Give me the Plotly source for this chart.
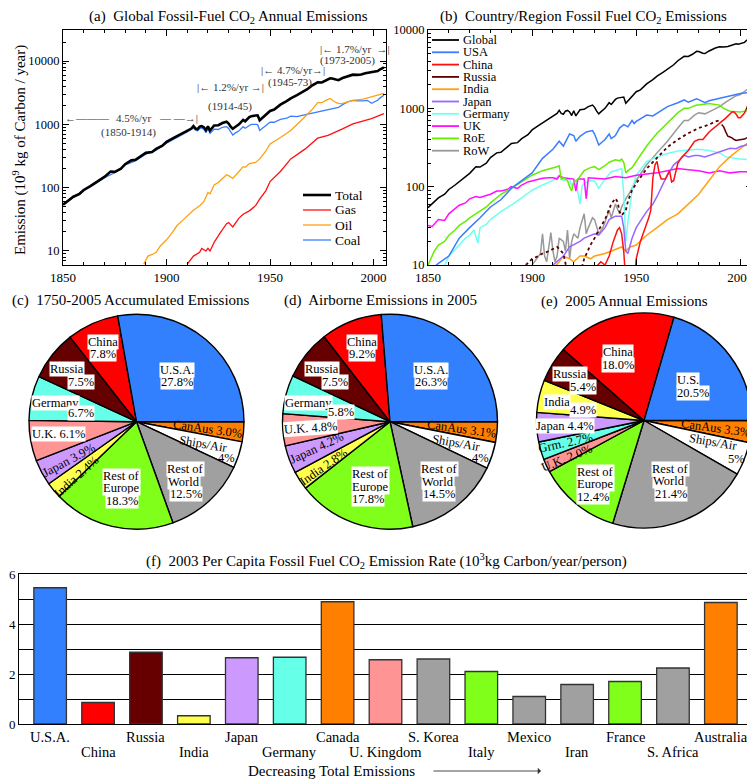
import math
import plotly.graph_objects as go

SERIF = "Liberation Serif, Times New Roman, serif"
# The page adds an 8 px body margin, so the figure is offset by it inside the window
OFF = 8
W, H = 755 - OFF, 779 - OFF


def fx(x):
    return (x - OFF) / W


def fy(y):
    return 1 - (y - OFF) / H


# ---------------- Panel (a): global emissions by fuel (10^9 kg C / yr) ----------------
total_years = [1850, 1852, 1855, 1858, 1860, 1863, 1865, 1868, 1870, 1873, 1875, 1878, 1880, 1883, 1885,
               1888, 1890, 1893, 1895, 1898, 1900, 1903, 1905, 1908, 1910, 1912, 1913, 1914, 1915, 1916,
               1917, 1918, 1919, 1920, 1921, 1922, 1923, 1925, 1927, 1929, 1930, 1931, 1932, 1933, 1935,
               1937, 1938, 1940, 1941, 1943, 1944, 1945, 1946, 1948, 1950, 1952, 1955, 1958, 1960, 1963,
               1965, 1968, 1970, 1972, 1973, 1975, 1977, 1979, 1980, 1982, 1983, 1985, 1988, 1990, 1992,
               1994, 1996, 1998, 1999, 2000, 2002, 2003, 2004, 2005]
total_vals = [54, 60, 72, 80, 92, 105, 115, 135, 148, 180, 178, 200, 235, 270, 275,
              320, 355, 365, 410, 460, 530, 600, 650, 740, 800, 860, 940, 860, 840, 920,
              940, 900, 810, 930, 800, 870, 960, 970, 1050, 1100, 1030, 920, 850, 900, 1000,
              1180, 1120, 1300, 1350, 1380, 1390, 1160, 1240, 1450, 1630, 1720, 2050, 2330, 2580, 2900,
              3130, 3600, 4050, 4350, 4620, 4600, 4900, 5350, 5300, 5050, 5000, 5400, 5900, 6100, 6050,
              6150, 6450, 6650, 6600, 6750, 6950, 7350, 7650, 7950]

coal_years = [1850, 1855, 1860, 1865, 1870, 1875, 1880, 1885, 1890, 1895, 1900, 1905, 1910, 1913, 1914,
              1915, 1916, 1917, 1918, 1919, 1920, 1921, 1922, 1923, 1925, 1927, 1929, 1930, 1931, 1932,
              1933, 1935, 1937, 1938, 1940, 1941, 1943, 1944, 1945, 1946, 1948, 1950, 1952, 1955, 1958,
              1960, 1963, 1965, 1968, 1970, 1973, 1975, 1978, 1980, 1983, 1985, 1988, 1990, 1992, 1995,
              1997, 1999, 2000, 2002, 2003, 2005]
coal_vals = [54, 71, 90, 112, 144, 172, 228, 265, 340, 390, 505, 615, 760, 880, 810,
             790, 860, 880, 840, 740, 850, 720, 780, 840, 830, 900, 920, 860, 760, 680,
             720, 790, 920, 870, 960, 1000, 1000, 990, 800, 860, 960, 1080, 1080, 1200, 1250,
             1350, 1330, 1380, 1450, 1530, 1580, 1650, 1750, 1780, 1850, 2050, 2300, 2400, 2350, 2350,
             2400, 2150, 2250, 2400, 2600, 2880]

oil_years = [1889, 1891, 1893, 1895, 1897, 1900, 1903, 1905, 1908, 1910, 1913, 1916, 1918, 1920, 1921,
             1923, 1925, 1927, 1929, 1930, 1932, 1935, 1937, 1938, 1940, 1943, 1945, 1948, 1950, 1955,
             1960, 1965, 1970, 1973, 1975, 1977, 1979, 1981, 1983, 1985, 1990, 1995, 2000, 2005]
oil_vals = [6.2, 8.3, 8.8, 9.5, 12, 15, 20, 25, 31, 36, 44, 52, 60, 84, 80,
            110, 121, 140, 160, 155, 140, 180, 215, 210, 240, 250, 285, 380, 490, 620,
            800, 1150, 1670, 2210, 2200, 2400, 2570, 2300, 2130, 2150, 2400, 2500, 2820, 3100]

gas_years = [1910, 1913, 1916, 1917, 1919, 1920, 1921, 1923, 1926, 1929, 1930, 1932, 1935, 1937, 1940,
             1943, 1945, 1948, 1950, 1955, 1960, 1967, 1973, 1978, 1985, 1990, 1993, 1999, 2005]
gas_vals = [6.2, 8.3, 9.5, 11, 10, 11, 10, 13.7, 19.5, 27, 28, 24, 33, 38, 43,
            52, 66, 90, 125, 180, 285, 410, 605, 670, 850, 1020, 1090, 1230, 1480]

fuel_names = ["Total", "Gas", "Oil", "Coal"]

# ---------------- Panel (b): country / region emissions ----------------
usa_years = [1850, 1855, 1860, 1865, 1870, 1875, 1880, 1885, 1890, 1895, 1900, 1905, 1910, 1913, 1915,
             1918, 1920, 1921, 1923, 1926, 1929, 1930, 1932, 1935, 1937, 1938, 1940, 1942, 1944, 1945,
             1946, 1948, 1949, 1950, 1955, 1958, 1960, 1965, 1970, 1973, 1975, 1979, 1980, 1983, 1985,
             1990, 1995, 2000, 2005]
usa_vals = [8, 10.5, 13, 22, 30, 40, 55, 68, 95, 120, 150, 230, 300, 380, 330,
            470, 450, 380, 440, 500, 520, 470, 340, 400, 470, 410, 450, 560, 620, 600,
            580, 700, 640, 680, 820, 800, 860, 1050, 1180, 1280, 1200, 1320, 1290, 1180, 1250,
            1350, 1450, 1550, 1600]

china_years = [1930, 1933, 1935, 1937, 1939, 1941, 1942, 1943, 1944, 1945, 1949, 1950, 1952, 1954, 1956,
               1957, 1958, 1959, 1960, 1961, 1962, 1964, 1966, 1967, 1968, 1970, 1972, 1975, 1978, 1980,
               1982, 1985, 1988, 1990, 1993, 1996, 1997, 1998, 1999, 2000, 2002, 2003, 2004, 2005]
china_vals = [9, 11, 10, 13, 20, 28, 30, 25, 15, 6, 6, 12, 20, 28, 40,
              50, 130, 190, 210, 150, 125, 125, 160, 115, 120, 200, 240, 290, 380, 400,
              400, 500, 580, 640, 750, 900, 900, 840, 760, 760, 870, 1000, 1200, 1400]

ussr_years = [1897, 1900, 1903, 1905, 1908, 1910, 1912, 1913, 1915, 1917, 1918, 1920, 1922, 1925, 1928,
              1930, 1932, 1935, 1938, 1940, 1941, 1942, 1943, 1945, 1946, 1948, 1950, 1955, 1960, 1965,
              1970, 1975, 1980, 1985, 1988, 1990, 1991]
ussr_vals = [10, 12, 13, 14, 15, 16, 17, 16, 14, 8, 5, 4, 6, 12, 18,
             22, 28, 38, 60, 71, 64, 48, 43, 50, 65, 90, 110, 170, 230, 320,
             400, 480, 560, 620, 680, 700, 680]

russia_years = [1991, 1992, 1993, 1994, 1995, 1996, 1997, 1998, 1999, 2000, 2001, 2002, 2003, 2004, 2005]
russia_vals = [620, 580, 500, 440, 430, 420, 400, 390, 395, 400, 400, 405, 420, 425, 430]

india_years = [1905, 1908, 1910, 1913, 1915, 1918, 1920, 1923, 1925, 1928, 1930, 1935, 1940, 1943, 1945,
               1947, 1950, 1955, 1960, 1965, 1970, 1975, 1980, 1985, 1990, 1995, 2000, 2005]
india_vals = [5, 7, 9, 11, 13, 12, 11, 13, 13, 12, 13, 14, 16, 17, 15,
              17, 18, 24, 30, 38, 45, 60, 80, 120, 180, 240, 310, 390]

japan_years = [1908, 1910, 1913, 1915, 1918, 1920, 1923, 1925, 1928, 1930, 1932, 1935, 1937, 1940, 1943,
               1944, 1945, 1946, 1948, 1950, 1953, 1955, 1958, 1960, 1963, 1965, 1968, 1970, 1973, 1975,
               1978, 1980, 1983, 1985, 1988, 1990, 1993, 1995, 1998, 2000, 2003, 2005]
japan_vals = [9, 10, 12, 13, 17, 18, 20, 22, 24, 25, 24, 30, 38, 42, 42,
              30, 15, 14, 22, 30, 40, 48, 60, 75, 110, 140, 190, 210, 252, 240,
              250, 250, 240, 250, 265, 275, 295, 310, 305, 325, 340, 345]

germany_years = [1855, 1858, 1860, 1863, 1865, 1868, 1870, 1872, 1874, 1875, 1878, 1880, 1885, 1890, 1895,
                 1900, 1905, 1910, 1913, 1914, 1915, 1918, 1919, 1920, 1921, 1923, 1924, 1925, 1928, 1930,
                 1932, 1935, 1938, 1940, 1943, 1944, 1945, 1946, 1947, 1948, 1950, 1953, 1955, 1960, 1965,
                 1970, 1975, 1980, 1985, 1990, 1993, 1995, 2000, 2005]
germany_vals = [8, 10, 13, 16, 18, 22, 24, 28, 19, 30, 33, 38, 48, 58, 72,
                90, 105, 120, 140, 130, 120, 125, 100, 115, 118, 60, 100, 110, 120, 118,
                95, 125, 155, 160, 170, 80, 20, 35, 60, 90, 140, 180, 210, 240, 265,
                285, 290, 300, 290, 270, 240, 235, 225, 220]

uk_years = [1850, 1852, 1855, 1858, 1860, 1863, 1865, 1868, 1870, 1873, 1875, 1878, 1880, 1883, 1885,
            1888, 1890, 1893, 1895, 1898, 1900, 1903, 1905, 1908, 1910, 1912, 1913, 1915, 1918, 1920,
            1921, 1922, 1925, 1926, 1927, 1930, 1935, 1940, 1945, 1950, 1955, 1960, 1965, 1970, 1975,
            1980, 1985, 1990, 1995, 2000, 2005]
uk_vals = [32, 31, 38, 37, 45, 52, 58, 62, 70, 75, 73, 77, 80, 88, 88,
           92, 100, 95, 105, 115, 118, 122, 128, 130, 130, 125, 137, 130, 128, 125,
           88, 125, 125, 70, 130, 128, 125, 135, 130, 140, 145, 150, 160, 170, 165,
           160, 150, 160, 150, 155, 155]

roe_years = [1850, 1853, 1855, 1858, 1860, 1863, 1865, 1868, 1870, 1873, 1875, 1878, 1880, 1885, 1890,
             1895, 1900, 1905, 1910, 1912, 1913, 1914, 1915, 1917, 1918, 1919, 1920, 1922, 1925, 1928,
             1930, 1932, 1935, 1937, 1940, 1942, 1943, 1944, 1945, 1946, 1948, 1950, 1955, 1960, 1965,
             1970, 1973, 1975, 1979, 1980, 1985, 1989, 1990, 1992, 1995, 2000, 2005]
roe_vals = [10, 15, 18, 20, 24, 28, 32, 36, 40, 45, 48, 55, 62, 80, 95,
            115, 140, 160, 172, 180, 185, 125, 130, 120, 100, 88, 115, 125, 160, 175,
            180, 165, 185, 205, 220, 215, 225, 205, 150, 160, 175, 210, 330, 480, 660,
            880, 1000, 1000, 1100, 1100, 1150, 1120, 1100, 1000, 920, 900, 950]

row_years = [1900, 1902, 1904, 1905, 1906, 1907, 1909, 1910, 1911, 1912, 1913, 1915, 1916, 1917, 1918,
             1919, 1920, 1922, 1923, 1925, 1926, 1927, 1929, 1930, 1932, 1934, 1935, 1937, 1938, 1940,
             1942, 1943, 1945, 1947, 1950, 1955, 1960, 1965, 1970, 1973, 1975, 1978, 1980, 1983, 1985,
             1988, 1990, 1993, 1995, 1998, 2000, 2003, 2005]
row_vals = [10, 12, 14, 25, 13, 11, 26, 15, 11, 13, 22, 20, 15, 28, 12,
            20, 25, 22, 30, 45, 25, 30, 40, 38, 25, 30, 35, 50, 40, 60,
            45, 55, 70, 85, 120, 190, 270, 380, 560, 700, 700, 820, 880, 850, 900,
            1000, 1050, 1200, 1300, 1450, 1500, 1700, 1880]

region_names = ["Global", "USA", "China", "Russia", "India", "Japan", "Germany", "UK", "RoE", "RoW"]

# ---------------- Panels (c)(d)(e): pie shares (%) clockwise from 3 o'clock ----------------
pie_keys_cd = ["canaus", "ships", "row", "roe", "india", "japan", "uk", "germany", "russia", "china", "usa"]
pie_names_cd = ["CanAus", "Ships/Air", "Rest of<br>World", "Rest of<br>Europe", "India", "Japan", "U.K.",
                "Germany", "Russia", "China", "U.S.A."]
accum_vals = [3.0, 4, 12.5, 18.3, 2.4, 3.9, 6.1, 6.7, 7.5, 7.8, 27.8]
airborne_vals = [3.1, 4, 14.5, 17.8, 2.8, 4.2, 4.8, 5.8, 7.5, 9.2, 26.3]

pie_keys_e = ["canaus", "ships", "row", "roe", "uk", "germany", "japan", "india", "russia", "china", "usa"]
pie_names_e = ["CanAus", "Ships/Air", "Rest of<br>World", "Rest of<br>Europe", "U.K.", "Grm.", "Japan",
               "India", "Russia", "China", "U.S."]
annual_vals = [3.3, 5, 21.4, 12.4, 2.0, 2.7, 4.4, 4.9, 5.4, 18.0, 20.5]

# ---------------- Panel (f): 2003 per capita emissions ----------------
percap_countries = ["U.S.A.", "China", "Russia", "India", "Japan", "Germany", "Canada", "U. Kingdom",
                    "S. Korea", "Italy", "Mexico", "Iran", "France", "S. Africa", "Australia"]
percap_keys = ["usa", "china", "russia", "india", "japan", "germany", "canaus", "uk",
               "row", "roe", "row", "row", "roe", "row", "canaus"]
percap_vals = [5.45, 0.86, 2.87, 0.33, 2.65, 2.67, 4.89, 2.57, 2.6, 2.1, 1.1, 1.58, 1.7, 2.24, 4.86]

# ---------------- styling ----------------
PIE_COL = {"usa": "#3380ff", "canaus": "#ff8000", "ships": "#ffffff", "row": "#a0a0a0",
           "roe": "#80ff1a", "india": "#ffff4d", "japan": "#cc99ff", "uk": "#ff9494",
           "germany": "#66ffe8", "russia": "#660000", "china": "#ff0000"}
LINE_COL = {"Global": "black", "USA": "#3a7dff", "China": "#ff1010", "Russia": "#5a0000",
            "India": "#ffa010", "Japan": "#9966ff", "Germany": "#70fff0", "UK": "#ff10ff",
            "RoE": "#66ee00", "RoW": "#999999"}

fig = go.Figure()

# Panel (a) lines
fuel_series = [(total_years, total_vals, "black", 2.6), (gas_years, gas_vals, "#ff1010", 1.3),
               (oil_years, oil_vals, "#ffa010", 1.3), (coal_years, coal_vals, "#3a7dff", 1.3)]
for idx in [3, 2, 1, 0]:
    yrs, vals, col, wd = fuel_series[idx]
    fig.add_trace(go.Scatter(x=yrs, y=vals, mode="lines", name=fuel_names[idx],
                             line=dict(color=col, width=wd), xaxis="x", yaxis="y",
                             showlegend=False, hoverinfo="skip"))

# Panel (b) lines
region_series = {"Global": (total_years, total_vals), "USA": (usa_years, usa_vals),
                 "China": (china_years, china_vals), "Russia": (russia_years, russia_vals),
                 "India": (india_years, india_vals), "Japan": (japan_years, japan_vals),
                 "Germany": (germany_years, germany_vals), "UK": (uk_years, uk_vals),
                 "RoE": (roe_years, roe_vals), "RoW": (row_years, row_vals)}
draw_order = ["RoW", "Germany", "UK", "India", "Japan", "RoE", "USA", "China", "Russia", "Global"]
for nm in draw_order:
    yrs, vals = region_series[nm]
    fig.add_trace(go.Scatter(x=yrs, y=vals, mode="lines", name=nm,
                             line=dict(color=LINE_COL[nm], width=1.5), xaxis="x2", yaxis="y2",
                             showlegend=False, hoverinfo="skip"))
    if nm == "Russia":
        fig.add_trace(go.Scatter(x=ussr_years, y=ussr_vals, mode="lines", name="USSR",
                                 line=dict(color=LINE_COL[nm], width=1.8, dash="dot"),
                                 xaxis="x2", yaxis="y2", showlegend=False, hoverinfo="skip"))

# Panel (f) bars
fig.add_trace(go.Bar(x=list(range(len(percap_countries))), y=percap_vals, width=0.68,
                     marker=dict(color=[PIE_COL[k] for k in percap_keys],
                                 line=dict(color="#333333", width=1.3)),
                     xaxis="x3", yaxis="y3", showlegend=False, hoverinfo="skip"))

# Pies
pie_centers = [(136.5, 421.7), (390.0, 421.7), (644.0, 420.5)]
R = 107.5
pie_sets = [(accum_vals, pie_names_cd, pie_keys_cd), (airborne_vals, pie_names_cd, pie_keys_cd),
            (annual_vals, pie_names_e, pie_keys_e)]
for (cx, cy), (vals, names, keys) in zip(pie_centers, pie_sets):
    fig.add_trace(go.Pie(values=vals, labels=names, sort=False, direction="clockwise", rotation=90,
                         textinfo="none", hoverinfo="skip", showlegend=False,
                         marker=dict(colors=[PIE_COL[k] for k in keys], line=dict(color="black", width=1.4)),
                         domain=dict(x=[fx(cx - R), fx(cx + R)], y=[fy(cy + R), fy(cy - R)])))

annotations = []
shapes = []


def txt(text, x, y, size=12, xanchor="center", angle=0, bg=None, color="black", yanchor="middle"):
    d = dict(text=text, x=fx(x), y=fy(y), xref="paper", yref="paper", showarrow=False,
             xanchor=xanchor, yanchor=yanchor, textangle=angle,
             font=dict(family=SERIF, size=size, color=color), borderpad=0)
    if bg:
        d["bgcolor"] = bg
    annotations.append(d)


# Titles
txt("(a)  Global Fossil-Fuel CO<sub>2</sub> Annual Emissions", 228, 17, size=15)
txt("(b)  Country/Region Fossil Fuel CO<sub>2</sub> Emissions", 583, 17, size=15)
txt("(c)  1750-2005 Accumulated Emissions", 131, 300, size=15)
txt("(d)  Airborne Emissions in 2005", 380, 300, size=15)
txt("(e)  2005 Annual Emissions", 624, 301, size=15)
txt("(f)  2003 Per Capita Fossil Fuel CO<sub>2</sub> Emission Rate (10<sup>3</sup>kg Carbon/year/person)",
    386, 561, size=15)
txt("Emission (10<sup>9</sup> kg of Carbon / year)", 19, 150, size=15, angle=-90)

# Growth-rate notes in panel (a)
G = "#333333"
txt("←———", 64, 118, size=11, xanchor="left", color=G)
txt("4.5%/yr", 133, 118, size=11, color=G)
txt("— —→|", 199, 118, size=11, xanchor="right", color=G)
txt("(1850-1914)", 129, 133, size=11, color=G)
txt("|← 1.2%/yr →|", 196, 87, size=11, xanchor="left", color=G)
txt("(1914-45)", 230, 107, size=11, color=G)
txt("|← 4.7%/yr→|", 260, 70, size=11, xanchor="left", color=G)
txt("(1945-73)", 290, 82, size=11, color=G)
txt("|← 1.7%/yr  →|", 319, 49, size=11, xanchor="left", color=G)
txt("(1973-2005)", 347, 61, size=11, color=G)

# Manual legend for (a)
fuel_leg_colors = ["black", "#ff1010", "#ffa010", "#3a7dff"]
fuel_leg_widths = [2.6, 1.3, 1.3, 1.3]
for i, nm in enumerate(fuel_names):
    yy = 195 + 15 * i
    shapes.append(dict(type="line", xref="paper", yref="paper", x0=fx(303), x1=fx(331),
                       y0=fy(yy), y1=fy(yy), line=dict(color=fuel_leg_colors[i], width=fuel_leg_widths[i])))
    txt(nm, 334, yy, size=13.5, xanchor="left")

# Manual legend for (b)
for i, nm in enumerate(region_names):
    yy = 40 + 12.3 * i
    shapes.append(dict(type="line", xref="paper", yref="paper", x0=fx(432), x1=fx(459),
                       y0=fy(yy), y1=fy(yy), line=dict(color=LINE_COL[nm], width=1.8)))
    txt(nm, 462, yy, size=12.5, xanchor="left")


def pie_part(names, vals, i, part):
    lines = names[i].split("<br>")
    pct = ("%.0f%%" % vals[i]) if names[i] == "Ships/Air" else ("%.1f%%" % vals[i])
    if part == "np":
        return lines[0] + " " + pct
    if part == "p":
        return pct
    if part == "n1":
        return lines[1]
    return lines[0]


spec_c = [(10, "n", 176.7, 370, 0, True), (10, "p", 176.7, 382.3, 0, True),
          (9, "n", 103, 342.3, 0, True), (9, "p", 103, 354.3, 0, True),
          (8, "n", 66.7, 369.3, 0, True), (8, "p", 81, 382.3, 0, True),
          (7, "n", 55, 403.3, 0, True), (7, "p", 81, 413.3, 0, True),
          (6, "np", 58.3, 434, 0, True),
          (5, "np", 69.3, 460, -28, False),
          (4, "np", 76, 476.7, -42, False),
          (3, "n", 121.7, 476, 0, True), (3, "n1", 121.7, 488.3, 0, True), (3, "p", 121.7, 501, 0, True),
          (2, "n", 185.7, 469, 0, True), (2, "n1", 184.3, 481.7, 0, True), (2, "p", 185.7, 494.3, 0, True),
          (0, "np", 207.3, 429.3, 8, False),
          (1, "n", 203.3, 444.3, 10, False), (1, "p", 226.7, 458.3, 0, False)]
spec_d = [(10, "n", 431, 370, 0, True), (10, "p", 431, 382.3, 0, True),
          (9, "n", 361.7, 342.3, 0, True), (9, "p", 361.7, 354.3, 0, True),
          (8, "n", 321.7, 369.3, 0, True), (8, "p", 335, 382.3, 0, True),
          (7, "n", 308.3, 402.7, 0, True), (7, "p", 341, 411.7, 0, True),
          (6, "np", 310, 427.7, -4, True),
          (5, "np", 316.7, 448.3, -25, False),
          (4, "np", 323.3, 466.7, -35, False),
          (3, "n", 370, 473.7, 0, True), (3, "n1", 370, 486.7, 0, True), (3, "p", 368.3, 499, 0, True),
          (2, "n", 439.3, 469, 0, True), (2, "n1", 437.7, 481.7, 0, True), (2, "p", 439.3, 494.3, 0, True),
          (0, "np", 461.7, 429, 8, False),
          (1, "n", 456.7, 443.3, 10, False), (1, "p", 480, 457.7, 0, False)]
spec_e = [(10, "n", 688.3, 380, 0, True), (10, "p", 693.3, 392.7, 0, True),
          (9, "n", 618.3, 352.3, 0, True), (9, "p", 618.3, 365, 0, True),
          (8, "n", 570, 374.3, 0, True), (8, "p", 583.3, 386.7, 0, True),
          (7, "n", 556.7, 402.3, 0, True), (7, "p", 583.3, 410, 0, True),
          (6, "np", 565, 426, 0, True),
          (5, "np", 565, 443.3, -12, False),
          (4, "np", 566.7, 457.7, -22, False),
          (3, "n", 595, 471.7, 0, True), (3, "n1", 595.7, 484.3, 0, True), (3, "p", 593.3, 496.7, 0, True),
          (2, "n", 670.7, 469, 0, True), (2, "n1", 669.3, 481, 0, True), (2, "p", 670.7, 493.7, 0, True),
          (0, "np", 715, 428.3, 8, False),
          (1, "n", 713.3, 441.7, 10, False), (1, "p", 736.7, 459, 0, False)]
for spec, (vals, names, keys) in zip([spec_c, spec_d, spec_e], pie_sets):
    for i, part, x, y, ang, bg in spec:
        txt(pie_part(names, vals, i, part), x, y, size=12.5, angle=ang, bg="white" if bg else None)

# Panel (f) category labels, staggered in two rows under the bars
for i, c in enumerate(percap_countries):
    annotations.append(dict(text=c, x=i, xref="x3", y=fy(737 if i % 2 == 0 else 752), yref="paper",
                            showarrow=False, xanchor="center", yanchor="middle",
                            font=dict(family=SERIF, size=14.5, color="black")))

# Panel (f) x-axis caption
txt("Decreasing Total Emissions", 331, 771, size=15)
annotations.append(dict(x=fx(541), y=fy(771), ax=-109, ay=0, xref="paper", yref="paper",
                        axref="pixel", ayref="pixel", text="", showarrow=True, arrowhead=1,
                        arrowsize=1.2, arrowwidth=0.9, arrowcolor="#333333"))

# Axes
tickfont = dict(family=SERIF, size=13, color="black")
minor_log = [m * 10 ** e for e in range(0, 5) for m in range(2, 10)]
log_major = [10, 100, 1000, 10000]
log_text = ["10", "100", "1000", "10000"]

base_axis = dict(showline=True, linecolor="black", linewidth=1, mirror="ticks", ticks="inside",
                 tickcolor="black", ticklen=6, showgrid=False, zeroline=False, tickfont=tickfont,
                 automargin=False)

fig.update_layout(
    width=W, height=H, autosize=False, margin=dict(l=0, r=0, t=0, b=0, pad=0, autoexpand=False),
    paper_bgcolor="white", plot_bgcolor="white",
    showlegend=False, annotations=annotations, shapes=shapes,
    xaxis=dict(base_axis, domain=[fx(63), fx(386)], anchor="y", range=[1850, 2006], dtick=50, tick0=1850,
               minor=dict(dtick=10, tick0=1850, ticks="inside", ticklen=3, tickcolor="black")),
    yaxis=dict(base_axis, domain=[fy(265), fy(30)], anchor="x", type="log",
               range=[math.log10(6.0), math.log10(31000)], tickmode="array", tickvals=log_major,
               ticktext=log_text, tickfont=dict(family=SERIF, size=12.5, color="black"),
               minor=dict(tickmode="array", tickvals=minor_log, ticks="inside", ticklen=3, tickcolor="black")),
    xaxis2=dict(base_axis, domain=[fx(428), fx(752)], anchor="y2", range=[1850, 2005.6], dtick=50,
                tick0=1850, minor=dict(dtick=10, tick0=1850, ticks="inside", ticklen=3, tickcolor="black")),
    yaxis2=dict(base_axis, domain=[fy(265), fy(30)], anchor="x2", type="log", range=[1, 4],
                tickmode="array", tickvals=log_major, ticktext=log_text,
                tickfont=dict(family=SERIF, size=12.5, color="black"),
                minor=dict(tickmode="array", tickvals=minor_log, ticks="inside", ticklen=3, tickcolor="black")),
    xaxis3=dict(showline=True, linecolor="black", linewidth=1, mirror=True, ticks="", showgrid=False,
                zeroline=False, domain=[fx(19), fx(752)], anchor="y3", range=[-0.65, 14.65],
                showticklabels=False, automargin=False),
    yaxis3=dict(showline=True, linecolor="black", linewidth=1, mirror=True, ticks="", showgrid=True,
                gridcolor="black", gridwidth=1, zeroline=False, domain=[fy(724), fy(574)], anchor="x3",
                range=[0, 6], tickmode="array", tickvals=[0, 1, 2, 3, 4, 5, 6], automargin=False,
                ticktext=["0", "", "2", "", "4", "", "6"],
                tickfont=dict(family=SERIF, size=13, color="black")),
)

fig.write_html("out.html")
